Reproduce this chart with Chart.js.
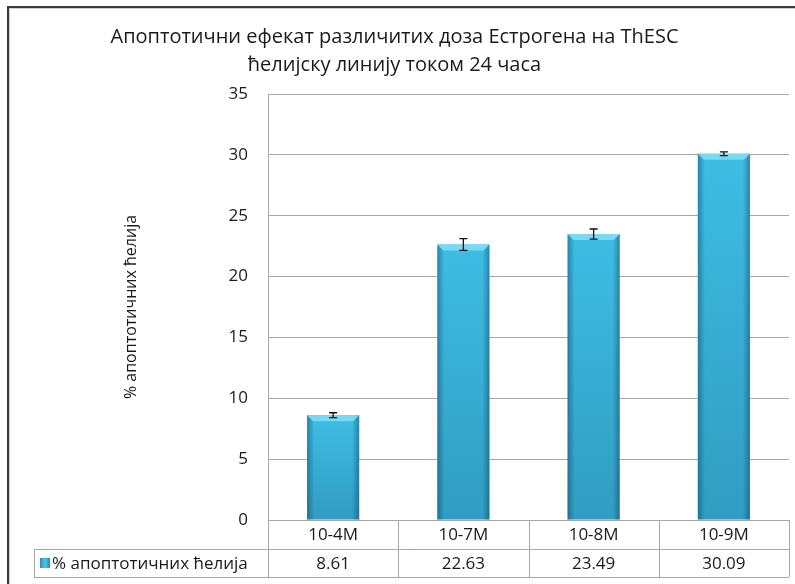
<!DOCTYPE html>
<html>
<head>
<meta charset="utf-8">
<script src="https://cdn.jsdelivr.net/npm/chart.js@4.4.1/dist/chart.umd.min.js"></script>
<style>
  html, body { margin: 0; padding: 0; background: #fff; }
  #wrap { position: relative; width: 795px; height: 584px; }
</style>
</head>
<body>
<div id="wrap"><canvas id="chart" width="795" height="584"></canvas></div>
<script>
// Apoptosis after 24h estrogen treatment, per dose
const categories = ['10-4M', '10-7M', '10-8M', '10-9M'];
const apoptoticPct = [8.61, 22.63, 23.49, 30.09];
const errorPct = [0.2, 0.48, 0.42, 0.15];
const seriesName = '% апоптотичних ћелија';
const titleLines = ['Апоптотични ефекат различитих доза Естрогена на ThESC', 'ћелијску линију током 24 часа'];

const TEXT = '#1a1a1a';
const GRID = '#a8a8a8';
const BAR = '#3ebde4';

Chart.defaults.font.family = "'Open Sans', sans-serif";
Chart.defaults.color = TEXT;

// white background + dark frame along the top and left edges
const framePlugin = {
    id: 'frame',
    beforeDraw(chart) {
        const ctx = chart.ctx;
        ctx.save();
        ctx.fillStyle = '#fff';
        ctx.fillRect(0, 0, chart.width, chart.height);
        ctx.strokeStyle = '#3a3a3a';
        ctx.lineWidth = 2;
        ctx.strokeRect(8, 7, chart.width + 20, chart.height + 20);
        ctx.strokeStyle = '#cfcfcf';
        ctx.lineWidth = 1;
        ctx.strokeRect(9.5, 8.5, chart.width + 20, chart.height + 20);
        ctx.restore();
    }
};

// shading on the bars (bevelled top, dark sides) and error bars
const barStylePlugin = {
    id: 'barStyle',
    afterDatasetsDraw(chart) {
        const ctx = chart.ctx;
        const yScale = chart.scales.y;
        const meta = chart.getDatasetMeta(0);
        ctx.save();
        meta.data.forEach((bar, i) => {
            const { x, y, base, width } = bar.getProps(['x', 'y', 'base', 'width'], true);
            const l = x - width / 2, r = x + width / 2;

            let g = ctx.createLinearGradient(0, y, 0, base);
            g.addColorStop(0, 'rgba(0,40,70,0)');
            g.addColorStop(1, 'rgba(0,40,70,0.22)');
            ctx.fillStyle = g;
            ctx.fillRect(l, y, width, base - y);

            g = ctx.createLinearGradient(l, 0, l + 7, 0);
            g.addColorStop(0, 'rgba(0,50,80,0.4)');
            g.addColorStop(1, 'rgba(0,50,80,0)');
            ctx.fillStyle = g;
            ctx.fillRect(l, y, 7, base - y);

            g = ctx.createLinearGradient(r, 0, r - 7, 0);
            g.addColorStop(0, 'rgba(0,50,80,0.4)');
            g.addColorStop(1, 'rgba(0,50,80,0)');
            ctx.fillStyle = g;
            ctx.fillRect(r - 7, y, 7, base - y);

            ctx.fillStyle = '#78d9f3';
            ctx.beginPath();
            ctx.moveTo(l, y);
            ctx.lineTo(r, y);
            ctx.lineTo(r - 6, y + 6);
            ctx.lineTo(l + 6, y + 6);
            ctx.closePath();
            ctx.fill();

            const hi = yScale.getPixelForValue(apoptoticPct[i] + errorPct[i]);
            const lo = yScale.getPixelForValue(apoptoticPct[i] - errorPct[i]);
            ctx.strokeStyle = '#111';
            ctx.lineWidth = 1.3;
            ctx.beginPath();
            ctx.moveTo(x, hi); ctx.lineTo(x, lo);
            ctx.moveTo(x - 4, hi); ctx.lineTo(x + 4, hi);
            ctx.moveTo(x - 4, lo); ctx.lineTo(x + 4, lo);
            ctx.stroke();
        });
        ctx.restore();
    }
};

// data table under the plot: category row, then legend key + values
const dataTablePlugin = {
    id: 'dataTable',
    afterDraw(chart) {
        const ctx = chart.ctx;
        const xs = chart.scales.x;
        const area = chart.chartArea;
        const colW = (area.right - area.left) / categories.length;
        const top = area.bottom, mid = top + 29, bottom = mid + 28;
        const tableLeft = 34;

        ctx.save();
        ctx.strokeStyle = GRID;
        ctx.lineWidth = 1;
        ctx.beginPath();
        ctx.moveTo(area.left, top + 0.5); ctx.lineTo(area.right, top + 0.5);
        ctx.moveTo(tableLeft, mid + 0.5); ctx.lineTo(area.right, mid + 0.5);
        ctx.moveTo(tableLeft, bottom + 0.5); ctx.lineTo(area.right, bottom + 0.5);
        ctx.moveTo(tableLeft + 0.5, mid); ctx.lineTo(tableLeft + 0.5, bottom);
        for (let i = 0; i <= categories.length; i++) {
            const cx = Math.round(area.left + i * colW) + 0.5;
            ctx.moveTo(cx, top); ctx.lineTo(cx, bottom);
        }
        ctx.stroke();

        ctx.fillStyle = TEXT;
        ctx.font = "17px 'Open Sans', sans-serif";
        ctx.textAlign = 'center';
        ctx.textBaseline = 'middle';
        categories.forEach((c, i) => {
            const cx = xs.getPixelForValue(i);
            ctx.fillText(c, cx, (top + mid) / 2 + 1);
            ctx.fillText(apoptoticPct[i].toFixed(2), cx, (mid + bottom) / 2 + 1);
        });

        // legend key
        const kx = tableLeft + 6, ky = (mid + bottom) / 2 - 5;
        const g = ctx.createLinearGradient(kx, 0, kx + 10, 0);
        g.addColorStop(0, '#2a8db0');
        g.addColorStop(0.5, '#49c6ea');
        g.addColorStop(1, '#2a8db0');
        ctx.fillStyle = g;
        ctx.fillRect(kx, ky, 10, 10);
        ctx.fillStyle = TEXT;
        ctx.textAlign = 'left';
        ctx.fillText(seriesName, kx + 12, (mid + bottom) / 2 + 1);
        ctx.restore();
    }
};

new Chart(document.getElementById('chart'), {
    type: 'bar',
    data: {
        labels: categories,
        datasets: [{
            label: seriesName,
            data: apoptoticPct,
            backgroundColor: BAR,
            borderWidth: 0,
            barPercentage: 0.4,
            categoryPercentage: 1
        }]
    },
    options: {
        responsive: false,
        animation: false,
        layout: { padding: { left: 0, right: 6, top: 0, bottom: 64 } },
        plugins: {
            legend: { display: false },
            tooltip: { enabled: false },
            title: {
                display: true,
                text: titleLines,
                color: TEXT,
                font: { size: 20, weight: 'normal', lineHeight: 1.4 },
                padding: { top: 23, bottom: 15 }
            }
        },
        scales: {
            x: { display: false },
            y: {
                min: 0,
                max: 35,
                ticks: { stepSize: 5, padding: 20, color: TEXT, font: { size: 17 } },
                grid: { color: GRID, drawTicks: false },
                border: { display: true, color: GRID },
                title: {
                    display: true,
                    text: seriesName,
                    color: TEXT,
                    font: { size: 16 },
                    padding: { top: 122, bottom: 0 }
                },
                afterFit: s => { s.width = 268; }
            }
        }
    },
    plugins: [framePlugin, barStylePlugin, dataTablePlugin]
});
</script>
</body>
</html>
